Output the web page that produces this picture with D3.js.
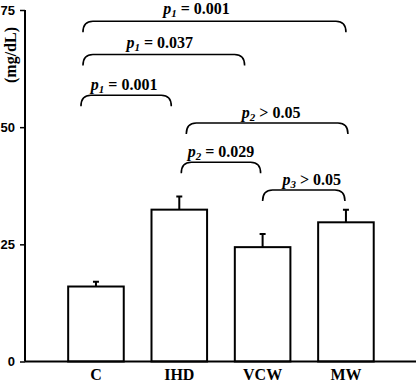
<!DOCTYPE html>
<html>
<head>
<meta charset="utf-8">
<script src="https://cdn.jsdelivr.net/npm/d3@7"></script>
<style>
  body { margin: 0; background: #fff; }
  svg { display: block; }
</style>
</head>
<body>
<div class="chart"></div>
<script>
// groups and means (mg/dL), with error (SEM)
var groups = ["C", "IHD", "VCW", "MW"];
var means = [16.0, 32.4, 24.4, 29.7];
var errors = [1.0, 2.8, 2.8, 2.7];
var yTicks = [0, 25, 50, 75];

// significance brackets
var bracketFrom = ["C", "C", "C", "IHD", "IHD", "VCW"];
var bracketTo = ["MW", "VCW", "IHD", "MW", "VCW", "MW"];
var bracketLevel = [72.6, 65.5, 56.8, 50.9, 42.5, 36.6];
var bracketSub = ["1", "1", "1", "2", "2", "3"];
var bracketText = ["= 0.001", "= 0.037", "= 0.001", "> 0.05", "= 0.029", "> 0.05"];

var width = 416, height = 384;

var svg = d3.select(".chart").append("svg")
    .attr("width", width)
    .attr("height", height);

var x = d3.scaleBand()
    .domain(groups)
    .range([54.3, 387.6])
    .paddingInner(0.333)
    .paddingOuter(0.1665);

var y = d3.scaleLinear()
    .domain([0, 75])
    .range([361.5, 10]);

// y axis
var yAxis = svg.append("g")
    .attr("transform", "translate(25,0)")
    .call(d3.axisLeft(y).tickValues(yTicks).tickSize(5).tickPadding(5));
yAxis.select(".domain").attr("stroke-width", 2).attr("d", "M0," + y(0) + "V" + y(75));
yAxis.selectAll(".tick line").attr("stroke-width", 1.5);
yAxis.selectAll(".tick text")
    .attr("font-family", "Liberation Sans, Arial, sans-serif")
    .attr("font-weight", "bold")
    .attr("font-size", 13)
    .attr("fill", "#000");

// y title
svg.append("text")
    .attr("transform", "translate(16,55) rotate(-90)")
    .attr("text-anchor", "middle")
    .attr("font-family", "Liberation Serif, Times New Roman, serif")
    .attr("font-weight", "bold")
    .attr("font-size", 16)
    .text("(mg/dL)");

// bars
svg.selectAll("rect.bar")
    .data(groups)
    .enter()
    .append("rect")
    .attr("class", "bar")
    .attr("x", function (d) { return x(d); })
    .attr("width", x.bandwidth())
    .attr("y", function (d, i) { return y(means[i]); })
    .attr("height", function (d, i) { return y(0) - y(means[i]); })
    .attr("fill", "#fff")
    .attr("stroke", "#000")
    .attr("stroke-width", 2);

// error bars
svg.selectAll("path.err")
    .data(groups)
    .enter()
    .append("path")
    .attr("class", "err")
    .attr("d", function (d, i) {
        var cx = x(d) + x.bandwidth() / 2;
        var top = y(means[i] + errors[i]);
        return "M" + cx + "," + y(means[i]) + "V" + top + "M" + (cx - 3) + "," + top + "H" + (cx + 3);
    })
    .attr("fill", "none")
    .attr("stroke", "#000")
    .attr("stroke-width", 2);

// x axis
svg.append("line")
    .attr("x1", 25).attr("x2", 416)
    .attr("y1", y(0)).attr("y2", y(0))
    .attr("stroke", "#000")
    .attr("stroke-width", 2);

svg.selectAll("text.xlab")
    .data(groups)
    .enter()
    .append("text")
    .attr("class", "xlab")
    .attr("x", function (d) { return x(d) + x.bandwidth() / 2; })
    .attr("y", 380)
    .attr("text-anchor", "middle")
    .attr("font-family", "Liberation Serif, Times New Roman, serif")
    .attr("font-weight", "bold")
    .attr("font-size", 16)
    .text(function (d) { return d; });

// bracket end offsets from the bar centres, and label positions
var offL = [-13, -13, -15, 7, 2, 0];
var offR = [0, -18, -8, 2, -2, -1];
var labelDx = [-18, -4, -2, 4, 0, 8];
var labelDy = [-7, -7, -5, -5, -5, -5];
var h = 11, r = 10;

var cx = function (g) { return x(g) + x.bandwidth() / 2; };

svg.selectAll("path.bracket")
    .data(bracketLevel)
    .enter()
    .append("path")
    .attr("class", "bracket")
    .attr("d", function (d, i) {
        var x1 = cx(bracketFrom[i]) + offL[i];
        var x2 = cx(bracketTo[i]) + offR[i];
        var yy = y(d);
        return "M" + x1 + "," + (yy + h) +
            "Q" + x1 + "," + yy + " " + (x1 + r) + "," + yy +
            "H" + (x2 - r) +
            "Q" + x2 + "," + yy + " " + x2 + "," + (yy + h);
    })
    .attr("fill", "none")
    .attr("stroke", "#000")
    .attr("stroke-width", 1.6);

var labels = svg.selectAll("text.plab")
    .data(bracketLevel)
    .enter()
    .append("text")
    .attr("class", "plab")
    .attr("x", function (d, i) {
        return (cx(bracketFrom[i]) + offL[i] + cx(bracketTo[i]) + offR[i]) / 2 + labelDx[i];
    })
    .attr("y", function (d, i) { return y(d) + labelDy[i]; })
    .attr("text-anchor", "middle")
    .attr("font-family", "Liberation Serif, Times New Roman, serif")
    .attr("font-weight", "bold")
    .attr("font-size", 16);

labels.append("tspan").attr("font-style", "italic").text("p");
labels.append("tspan")
    .attr("font-style", "italic")
    .attr("font-size", 11)
    .attr("dy", 3)
    .text(function (d, i) { return bracketSub[i]; });
labels.append("tspan")
    .attr("dy", -3)
    .text(function (d, i) { return " " + bracketText[i]; });
</script>
</body>
</html>
